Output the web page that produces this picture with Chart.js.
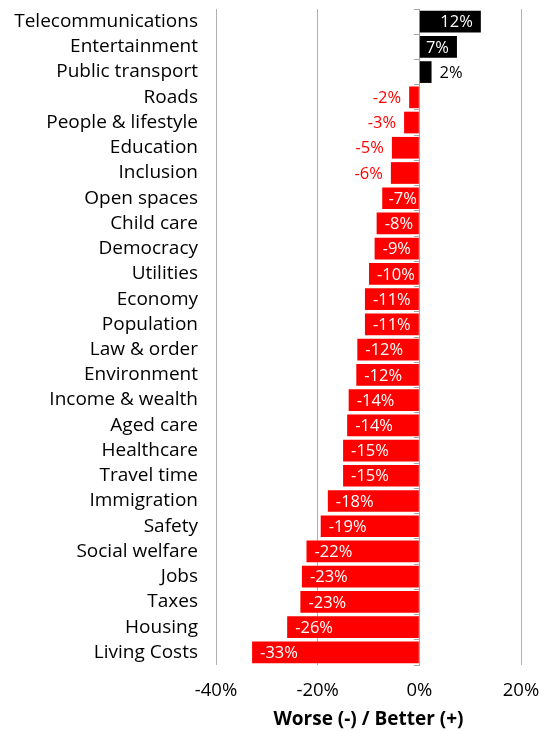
<!DOCTYPE html>
<html>
<head>
<meta charset="utf-8">
<script src="https://cdn.jsdelivr.net/npm/chart.js@4"></script>
<style>
    html, body { margin: 0; padding: 0; background: #fff; }
    #wrap { width: 548px; height: 731px; }
</style>
</head>
<body>
<div id="wrap"><canvas id="chart" width="548" height="731"></canvas></div>
<script>
const categories = [
    "Telecommunications", "Entertainment", "Public transport", "Roads",
    "People & lifestyle", "Education", "Inclusion", "Open spaces",
    "Child care", "Democracy", "Utilities", "Economy", "Population",
    "Law & order", "Environment", "Income & wealth", "Aged care",
    "Healthcare", "Travel time", "Immigration", "Safety",
    "Social welfare", "Jobs", "Taxes", "Housing", "Living Costs"
];
const changes = [
    12.1, 7.4, 2.4, -2.0,
    -3.0, -5.4, -5.6, -7.3,
    -8.4, -8.8, -9.9, -10.7, -10.7,
    -12.2, -12.4, -13.9, -14.2,
    -15.0, -15.0, -18.0, -19.4,
    -22.2, -23.1, -23.4, -26.0, -32.9
];
const xTicks = [-40, -20, 0, 20];

const FONT = "'Open Sans', sans-serif";
const barColors = changes.map((v) => (v >= 0 ? "#000000" : "#ff0000"));

// value labels: inside the bar end when they fit, outside otherwise
const valueLabels = {
    id: "valueLabels",
    afterDatasetsDraw(chart) {
        const ctx = chart.ctx;
        const meta = chart.getDatasetMeta(0);
        ctx.save();
        ctx.font = "16.5px " + FONT;
        ctx.textBaseline = "middle";
        meta.data.forEach((bar, i) => {
            const v = changes[i];
            const text = Math.round(v) + "%";
            const w = ctx.measureText(text).width;
            const len = Math.abs(bar.x - bar.base);
            const inside = w + 4 < len;
            const pad = 8;
            if (v >= 0) {
                if (inside) {
                    ctx.fillStyle = "#ffffff";
                    ctx.textAlign = "right";
                    ctx.fillText(text, bar.x - pad, bar.y + 1);
                } else {
                    ctx.fillStyle = "#000000";
                    ctx.textAlign = "left";
                    ctx.fillText(text, bar.x + pad, bar.y + 1);
                }
            } else {
                if (inside) {
                    ctx.fillStyle = "#ffffff";
                    ctx.textAlign = "left";
                    const x = Math.min(bar.x + pad, bar.base - 2 - w);
                    ctx.fillText(text, x, bar.y + 1);
                } else {
                    ctx.fillStyle = "#ff0000";
                    ctx.textAlign = "right";
                    ctx.fillText(text, bar.x - pad, bar.y + 1);
                }
            }
        });
        ctx.restore();
    }
};

new Chart(document.querySelector("#chart"), {
    type: "bar",
    data: {
        labels: categories,
        datasets: [
            {
                data: changes,
                backgroundColor: barColors,
                borderWidth: 0,
                barPercentage: 0.86,
                categoryPercentage: 1.0,
            },
        ],
    },
    options: {
        indexAxis: "y",
        responsive: false,
        animation: false,
        layout: { padding: { top: 9, right: 27, left: 0, bottom: 0 } },
        plugins: {
            legend: { display: false },
            tooltip: { enabled: false },
        },
        scales: {
            x: {
                min: -40,
                max: 20,
                afterBuildTicks: (scale) => {
                    scale.ticks = xTicks.map((v) => ({ value: v }));
                },
                ticks: {
                    callback: (v) => v + "%",
                    color: "#000",
                    font: { family: FONT, size: 18.5 },
                    padding: 15,
                    maxRotation: 0,
                },
                grid: { color: "#b0b0b0", lineWidth: 1, drawTicks: false },
                border: { display: false },
                title: {
                    display: true,
                    text: "Worse (-) / Better (+)",
                    color: "#000",
                    font: { family: FONT, size: 19, weight: "bold" },
                    padding: { top: 7, bottom: 0 },
                },
                afterFit: (scale) => {
                    scale.height = 66;
                    scale.paddingLeft = 0;
                    scale.paddingRight = 0;
                },
            },
            y: {
                ticks: {
                    color: "#000",
                    font: { family: FONT, size: 19 },
                    padding: 18,
                    autoSkip: false,
                },
                grid: { display: false, drawTicks: false },
                border: { display: false },
                afterFit: (scale) => {
                    scale.width = 216;
                    scale.paddingTop = 0;
                    scale.paddingBottom = 0;
                },
            },
            y2: {
                type: "category",
                axis: "y",
                labels: categories,
                position: { x: 0 },
                offset: true,
                z: 1,
                ticks: { display: false },
                grid: {
                    offset: true,
                    drawOnChartArea: false,
                    drawTicks: true,
                    tickLength: 5,
                    color: "#a6a6a6",
                },
                border: { display: true, color: "#a6a6a6", width: 1 },
            },
        },
    },
    plugins: [valueLabels],
});
</script>
</body>
</html>
